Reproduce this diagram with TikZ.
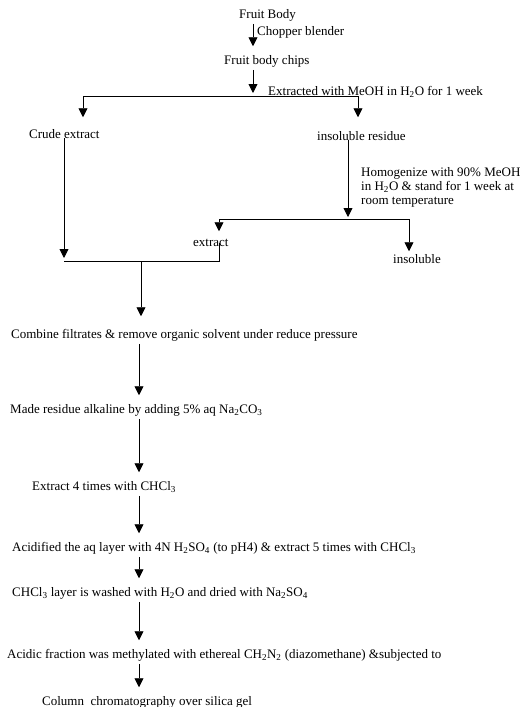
\documentclass[tikz,border=0pt]{standalone}
\usepackage{fontspec}
\setmainfont{Liberation Serif}
\usetikzlibrary{arrows.meta}

\begin{document}
\begin{tikzpicture}[x=1pt, y=1pt,
	txt/.style={anchor=west, inner sep=0pt, outer ysep=2.5pt, text height=9.5pt, text depth=3pt, font=\fontsize{13}{14}\selectfont},
	arr/.style={line width=0.9pt, -{Triangle[length=9pt,width=9pt]}, shorten >=6pt},
	ln/.style={line width=0.9pt}]
	\useasboundingbox (0,0) rectangle (529,-707);
	% junctions of the lines
	\coordinate (j1) at (253,-96);
	\coordinate (jl) at (83,-96);
	\coordinate (jr) at (358,-96);
	\coordinate (j2) at (348,-219);
	\coordinate (j2l) at (219,-219);
	\coordinate (j2r) at (409,-219);
	\coordinate (jc) at (64,-261);
	\coordinate (je) at (219,-261);
	\coordinate (j3) at (141,-261);
	\coordinate (m) at (139,-348);
	% upper steps
	\node[txt] (fb) at (239,-15) {Fruit Body};
	\node[txt] (chop) at (257,-32) {Chopper blender};
	\node[txt] (chips) at (224,-61) {Fruit body chips};
	\node[txt] (exl) at (268,-92) {Extracted with MeOH in H\textsubscript{2}O for 1 week};
	\node[txt] (crude) at (29,-135) {Crude extract};
	\node[txt] (ins) at (317,-137) {insoluble residue};
	\node[anchor=north west, align=left, inner sep=0pt, font=\fontsize{13}{14}\selectfont] (hom) at (361,-167)
		{Homogenize with 90\% MeOH\\ in H\textsubscript{2}O \& stand for 1 week at\\ room temperature};
	\node[txt] (extr) at (193,-243) {extract};
	\node[txt] (insol) at (393,-260) {insoluble};
	% lower steps
	\node[txt] (comb) at (11,-335) {Combine filtrates \& remove organic solvent under reduce pressure};
	\node[txt] (made) at (10,-410) {Made residue alkaline by adding 5\% aq Na\textsubscript{2}CO\textsubscript{3}};
	\node[txt] (ext4) at (32,-487) {Extract 4 times with CHCl\textsubscript{3}};
	\node[txt] (acid) at (12,-548) {Acidified the aq layer with 4N H\textsubscript{2}SO\textsubscript{4} (to pH4) \& extract 5 times with CHCl\textsubscript{3}};
	\node[txt] (wash) at (12,-593) {CHCl\textsubscript{3} layer is washed with H\textsubscript{2}O and dried with Na\textsubscript{2}SO\textsubscript{4}};
	\node[txt] (meth) at (7,-655) {Acidic fraction was methylated with ethereal CH\textsubscript{2}N\textsubscript{2} (diazomethane) \&subjected to};
	\node[txt] (col) at (42,-702) {Column~ chromatography over silica gel};
	% making lines
	\draw[arr] (fb.south -| j1) -- (chips.north -| j1);
	\draw[arr, shorten >=3pt] (chips.south -| j1) -- (j1);
	\draw[ln] (jl) -- (jr);
	\draw[arr, shorten >=9pt] (jl) -- (crude.north -| jl);
	\draw[arr, shorten >=11pt] (jr) -- (ins.north -| jr);
	\draw[arr, shorten >=3pt] (crude.base -| jc) -- (jc);
	\draw[arr, shorten >=2pt] (ins.base -| j2) -- (j2);
	\draw[ln] (j2l) -- (j2r);
	\draw[arr, shorten >=3pt] (j2l) -- (extr.north -| j2l);
	\draw[arr, shorten >=0pt] (j2r) -- (insol.north -| j2r);
	\draw[ln] (extr.center -| je) -- (je) -- (jc);
	\draw[arr, shorten >=10pt] (j3) -- (comb.north -| j3);
	\draw[arr] (comb.south -| m) -- (made.north -| m);
	\draw[arr] (made.south -| m) -- (ext4.north -| m);
	\draw[arr] (ext4.south -| m) -- (acid.north -| m);
	\draw[arr] (acid.south -| m) -- (wash.north -| m);
	\draw[arr] (wash.south -| m) -- (meth.north -| m);
	\draw[arr] (meth.south -| m) -- (col.north -| m);
\end{tikzpicture}
\end{document}
